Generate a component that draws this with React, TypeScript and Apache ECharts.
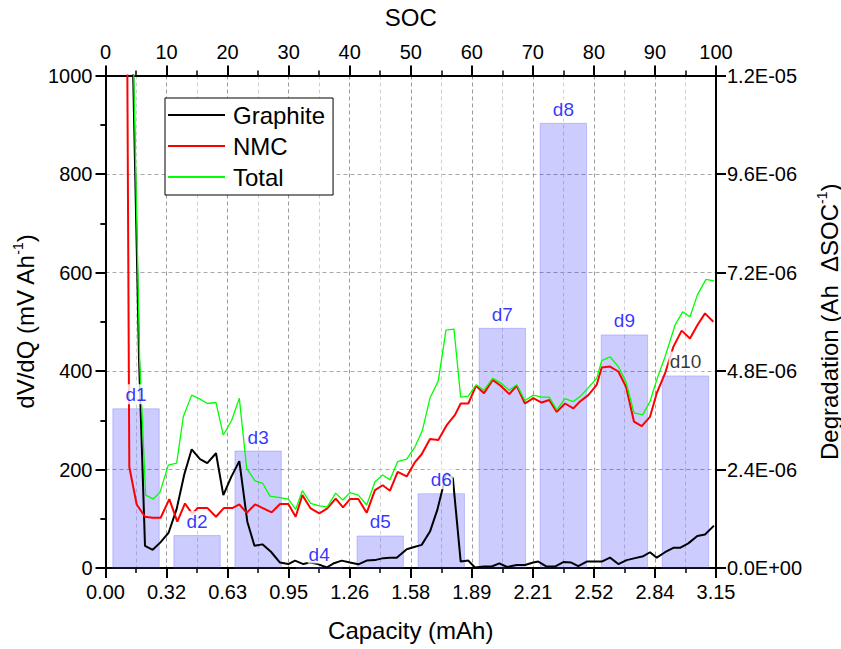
import React, { useEffect, useRef } from "react";
import * as echarts from "echarts";

const FONT = "'Liberation Sans', Arial, sans-serif";

// x axis values are SOC (%); bottom labels give capacity (mAh)
const capLabels = ["0.00", "0.32", "0.63", "0.95", "1.26", "1.58", "1.89", "2.21", "2.52", "2.84", "3.15"];
const degLabels = ["0.0E+00", "2.4E-06", "4.8E-06", "7.2E-06", "9.6E-06", "1.2E-05"];

// degradation bars
const degNames = ["d1", "d2", "d3", "d4", "d5", "d6", "d7", "d8", "d9", "d10"];
const degCenters = [5, 15, 25, 35, 45, 55, 65, 75, 85, 95];
const degValues = [3.88e-6, 7.9e-7, 2.85e-6, 0, 7.8e-7, 1.81e-6, 5.84e-6, 1.0835e-5, 5.68e-6, 4.68e-6];

// [SOC, dV/dQ]
const graphite = [
  [4.2, 1200], [5.5, 420], [6.47, 45], [7.73, 37], [9.0, 52], [10.35, 72], [11.66, 120], [12.9, 190],
  [14.12, 241], [15.48, 221], [16.67, 213], [18.1, 233], [19.3, 148], [20.6, 185], [21.92, 217],
  [23.23, 94], [24.4, 45], [25.7, 48], [27.1, 33], [28.58, 11], [29.94, 8], [31.04, 15], [32.4, 8],
  [33.5, 11], [34.8, 8], [36.23, 1], [37.31, 9], [38.69, 15], [40.05, 11], [41.41, 7.5], [42.78, 15],
  [44.14, 16], [45.5, 20], [46.6, 21], [47.7, 21], [49.34, 38], [50.42, 42], [51.79, 47], [53.15, 74],
  [54.35, 118], [55.85, 193], [56.9, 182], [58.18, 13], [59.43, 15], [60.52, 1], [62.0, 3], [63.26, 3],
  [64.5, 9.5], [65.8, 2], [67.35, 6], [68.7, 6], [70.07, 11], [70.89, 13], [72.27, 3], [73.6, 3],
  [74.99, 12], [76.3, 11], [77.44, 4], [78.82, 13], [80.2, 13], [81.28, 13], [82.64, 21], [84.0, 8],
  [85.37, 16], [86.73, 20], [88.09, 24], [89.19, 32], [90.29, 21], [91.65, 32], [93.01, 41], [94.1, 41],
  [95.46, 50], [96.94, 65], [98.2, 68], [99.67, 86],
];

const nmc = [
  [3.5, 1200], [3.9, 205], [5.11, 129], [6.47, 104], [7.73, 102], [9.04, 102], [10.45, 140], [11.76, 94],
  [13.02, 131], [14.2, 110], [15.1, 122], [16.67, 122], [18.1, 104], [19.41, 122], [20.84, 122],
  [21.92, 129], [23.13, 112], [24.49, 129], [25.85, 121], [27.22, 113], [28.58, 130], [29.94, 130],
  [31.15, 104], [32.24, 148], [33.61, 121], [35.02, 111], [36.33, 121], [37.71, 141], [38.9, 123],
  [40.05, 140], [41.41, 140], [42.78, 112], [44.14, 158], [45.41, 168], [46.6, 157], [47.86, 195],
  [49.34, 186], [50.7, 215], [51.79, 231], [53.15, 262], [54.51, 260], [55.89, 290], [57.25, 311],
  [58.18, 334], [59.43, 334], [60.69, 370], [62.0, 355], [63.42, 382], [64.73, 370], [66.14, 353],
  [67.35, 370], [68.71, 334], [70.07, 345], [71.45, 336], [72.69, 341], [73.91, 317], [75.27, 334],
  [76.63, 324], [77.72, 338], [79.08, 351], [80.46, 372], [81.28, 407], [82.64, 409], [84.0, 399],
  [85.26, 368], [86.57, 297], [87.83, 288], [89.19, 307], [90.29, 355], [91.65, 395], [93.01, 449],
  [94.38, 482], [95.74, 466], [96.94, 493], [98.2, 517], [99.56, 500],
];

const total = [
  [4.3, 1200], [5.6, 420], [6.58, 148], [7.83, 140], [8.93, 154], [10.29, 209], [11.66, 213], [12.74, 307],
  [14.12, 351], [15.48, 343], [16.67, 334], [18.1, 336], [19.3, 270], [20.67, 300], [21.92, 345],
  [23.13, 202], [24.49, 177], [25.75, 172], [26.95, 146], [28.58, 143], [29.94, 140], [31.15, 119],
  [32.24, 157], [33.61, 131], [35.02, 126], [36.33, 124], [37.71, 152], [38.85, 138], [40.05, 153],
  [41.41, 148], [42.78, 128], [44.14, 175], [45.41, 189], [46.6, 179], [47.86, 216], [49.34, 221],
  [50.7, 246], [51.9, 279], [53.15, 345], [54.51, 380], [55.77, 483], [57.08, 485], [58.18, 347],
  [59.43, 349], [60.69, 372], [62.0, 361], [63.42, 385], [64.73, 376], [66.14, 361], [67.35, 372],
  [68.71, 340], [70.07, 351], [71.45, 347], [72.69, 347], [73.91, 321], [75.27, 344], [76.63, 338],
  [77.72, 348], [79.08, 366], [80.46, 385], [81.28, 421], [82.64, 429], [84.0, 409], [85.26, 378],
  [86.57, 315], [87.99, 311], [89.19, 338], [90.29, 382], [91.65, 429], [93.29, 493], [94.54, 520],
  [95.74, 510], [96.94, 554], [98.36, 586], [99.67, 583],
];

const BAR_HALF = 3.8;

export default function App() {
  const ref = useRef<HTMLDivElement>(null);
  useEffect(() => {
    if (!ref.current) return;
    const chart = echarts.init(ref.current, null, { renderer: "svg" });
    const black = "#000";
    const axisCommon = {
      axisLine: { show: true, onZero: false, lineStyle: { color: black, width: 2 } },
      axisTick: { show: true, length: 10, inside: false, lineStyle: { color: black, width: 2 } },
      minorTick: { show: true, splitNumber: 2, length: 5, lineStyle: { color: black, width: 1.5 } },
      axisLabel: { color: black, fontSize: 20, fontFamily: FONT },
      nameTextStyle: { color: black, fontSize: 24, fontFamily: FONT },
      nameLocation: "middle" as const,
    };
    const supRich = {
      t: { fontSize: 24, fontFamily: FONT, color: black, lineHeight: 28 },
      s: { fontSize: 14, fontFamily: FONT, color: black, lineHeight: 16, verticalAlign: "top" },
    };
    const option: any = {
      animation: false,
      backgroundColor: "#fff",
      grid: { left: 105.5, right: 125, top: 75.5, bottom: 81, containLabel: false, outerBoundsMode: "none" },
      legend: {
        orient: "vertical",
        left: 165,
        top: 98,
        data: [
          { name: "Graphite", icon: "rect" },
          { name: "NMC", icon: "rect" },
          { name: "Total", icon: "rect" },
        ],
        backgroundColor: "#fff",
        borderColor: black,
        borderWidth: 1,
        borderRadius: 0,
        padding: [5, 8, 6, 3],
        itemWidth: 57,
        itemHeight: 2,
        itemGap: 7,
        itemStyle: { borderWidth: 0 },
        textStyle: { fontSize: 24, color: black, fontFamily: FONT, lineHeight: 24, padding: [0, 0, 0, 3] },
      },
      xAxis: [
        {
          ...axisCommon,
          type: "value",
          position: "bottom",
          min: 0,
          max: 100,
          interval: 10,
          name: "Capacity (mAh)",
          nameGap: 50,
          axisLabel: { ...axisCommon.axisLabel, margin: 14, formatter: (v: number) => capLabels[Math.round(v / 10)] },
          splitLine: { show: true, lineStyle: { color: "#9a9a9a", type: [4, 3], width: 1 } },
          minorSplitLine: { show: true, lineStyle: { color: "#d0d0d0", type: [4, 3], width: 1 } },
        },
        {
          ...axisCommon,
          type: "value",
          position: "top",
          min: 0,
          max: 100,
          interval: 10,
          name: "SOC",
          nameGap: 46,
          axisLabel: { ...axisCommon.axisLabel, margin: 14, formatter: (v: number) => String(v) },
          splitLine: { show: false },
        },
      ],
      yAxis: [
        {
          ...axisCommon,
          type: "value",
          position: "left",
          min: 0,
          max: 1000,
          interval: 200,
          name: "{t|dV/dQ (mV Ah}{s|-1}{t|)}",
          nameGap: 64,
          nameTextStyle: { rich: supRich },
          axisLabel: { ...axisCommon.axisLabel, margin: 13, formatter: (v: number) => String(v) },
          splitLine: { show: true, lineStyle: { color: "#a8a8a8", type: [4, 3], width: 1 } },
        },
        {
          ...axisCommon,
          type: "value",
          position: "right",
          min: 0,
          max: 1.2e-5,
          interval: 2.4e-6,
          name: "{t|Degradation (Ah  \u0394SOC}{s|-1}{t|)}",
          nameGap: 99,
          nameTextStyle: { rich: supRich },
          minorTick: { show: false },
          axisLabel: { ...axisCommon.axisLabel, margin: 11, formatter: (v: number) => degLabels[Math.round(v / 2.4e-6)] },
          splitLine: { show: false },
        },
        {
          type: "value",
          position: "right",
          min: 0,
          max: 1.2e-5,
          interval: 1.2e-6,
          axisLine: { show: false },
          axisTick: { show: true, inside: true, length: 5, lineStyle: { color: black, width: 1.5 } },
          axisLabel: { show: false },
          splitLine: { show: false },
        },
      ],
      series: [
        {
          type: "custom",
          name: "Degradation",
          xAxisIndex: 0,
          yAxisIndex: 1,
          z: 1,
          encode: { x: 0, y: 1 },
          data: degCenters.map((c, i) => [c, degValues[i]]),
          renderItem: (params: any, api: any) => {
            const c = api.value(0);
            const v = api.value(1);
            const p0 = api.coord([c - BAR_HALF, 0]);
            const p1 = api.coord([c + BAR_HALF, v]);
            return {
              type: "rect",
              shape: { x: p0[0], y: p1[1], width: p1[0] - p0[0], height: p0[1] - p1[1] },
              style: { fill: "rgba(0,0,255,0.2)", stroke: "rgba(90,90,255,0.3)", lineWidth: 1 },
            };
          },
        },
        {
          type: "line",
          name: "Graphite",
          xAxisIndex: 0,
          yAxisIndex: 0,
          data: graphite,
          symbol: "none",
          clip: true,
          z: 3,
          lineStyle: { color: "#000", width: 2 },
          itemStyle: { color: "#000" },
        },
        {
          type: "line",
          name: "NMC",
          xAxisIndex: 0,
          yAxisIndex: 0,
          data: nmc,
          symbol: "none",
          clip: true,
          z: 3,
          lineStyle: { color: "#ff0000", width: 2 },
          itemStyle: { color: "#ff0000" },
        },
        {
          type: "line",
          name: "Total",
          xAxisIndex: 0,
          yAxisIndex: 0,
          data: total,
          symbol: "none",
          clip: true,
          z: 3,
          lineStyle: { color: "#00ff00", width: 1.3 },
          itemStyle: { color: "#00ff00" },
        },
        {
          type: "scatter",
          name: "labels",
          xAxisIndex: 0,
          yAxisIndex: 1,
          z: 10,
          symbolSize: 1,
          itemStyle: { color: "rgba(0,0,0,0)" },
          silent: true,
          data: degCenters.map((c, i) => ({
            value: [c, degValues[i]],
            label: { color: i === 9 ? "#000" : "#0000ff" },
          })),
          label: {
            show: true,
            position: "top",
            distance: 4,
            fontSize: 19,
            fontFamily: FONT,
            backgroundColor: "#fff",
            padding: [1, 1, 0, 1],
            formatter: (p: any) => degNames[p.dataIndex],
          },
        },
      ],
    };
    chart.setOption(option);
    return () => chart.dispose();
  }, []);
  return (
    <div
      ref={ref}
      style={{ position: "fixed", left: 0, top: 0, width: 841, height: 649, background: "#fff" }}
    />
  );
}
